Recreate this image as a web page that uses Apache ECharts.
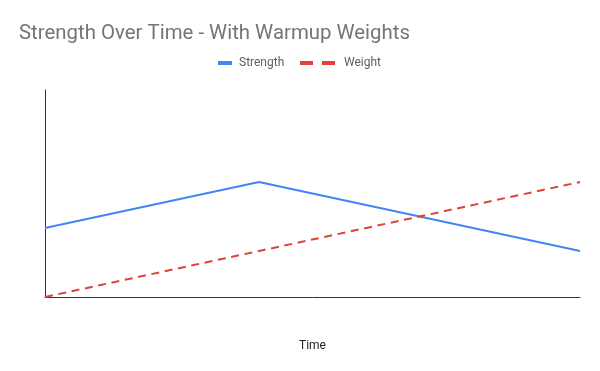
<!DOCTYPE html>
<html><head><meta charset="utf-8">
<script src="https://cdn.jsdelivr.net/npm/echarts@6/dist/echarts.min.js"></script>
<style>html,body{margin:0;padding:0;background:#fff}#c{width:600px;height:371px}</style>
</head><body><div id="c"></div>
<script>
const timePoints = [0, 2, 5];
const strength = [3, 5, 2];
const weight = [0, 2, 5];
const seriesNames = ['Strength', 'Weight'];
const pair = (xs, ys) => xs.map((x, i) => [x, ys[i]]);
const chart = echarts.init(document.getElementById('c'));
chart.setOption({
  animation: false,
  textStyle: { fontFamily: 'Roboto' },
  title: { text: 'Strength Over Time - With Warmup Weights', left: 14, top: 19,
    textStyle: { fontFamily: 'Roboto', fontSize: 20.4, fontWeight: 'normal', color: '#757575' } },
  legend: [
    { data: [{ name: seriesNames[0], icon: 'rect' }], left: 213, top: 52, itemWidth: 14, itemHeight: 4,
      textStyle: { fontFamily: 'Roboto', fontSize: 12, color: '#5f5f5f', padding: [0, 0, 0, 2] } },
    { data: [{ name: seriesNames[1], icon: 'path://M0,0h13v4h-13z M22,0h13v4h-13z' }], left: 295, top: 52,
      itemWidth: 35, itemHeight: 4,
      textStyle: { fontFamily: 'Roboto', fontSize: 12, color: '#5f5f5f', padding: [0, 0, 0, 4] } }
  ],
  grid: { left: 45, right: 20, top: 90, bottom: 74 },
  xAxis: { type: 'value', min: 0, max: 5, name: 'Time', nameLocation: 'middle', nameGap: 43,
    nameTextStyle: { fontFamily: 'Roboto', fontSize: 12, color: '#222' },
    axisLine: { lineStyle: { color: '#333', width: 1 } }, axisTick: { show: false },
    axisLabel: { show: false }, splitLine: { show: false } },
  yAxis: { type: 'value', min: 0, max: 9,
    axisLine: { show: true, lineStyle: { color: '#333', width: 1 } }, axisTick: { show: false },
    axisLabel: { show: false }, splitLine: { show: false } },
  series: [
    { name: seriesNames[0], type: 'line', data: pair(timePoints, strength), symbol: 'none',
      color: '#4285f4', lineStyle: { width: 2, color: '#4285f4' } },
    { name: seriesNames[1], type: 'line', data: pair(timePoints, weight), symbol: 'none',
      color: '#db4437', lineStyle: { width: 2, color: '#db4437', type: [8, 5.6] } }
  ]
});
</script></body></html>
